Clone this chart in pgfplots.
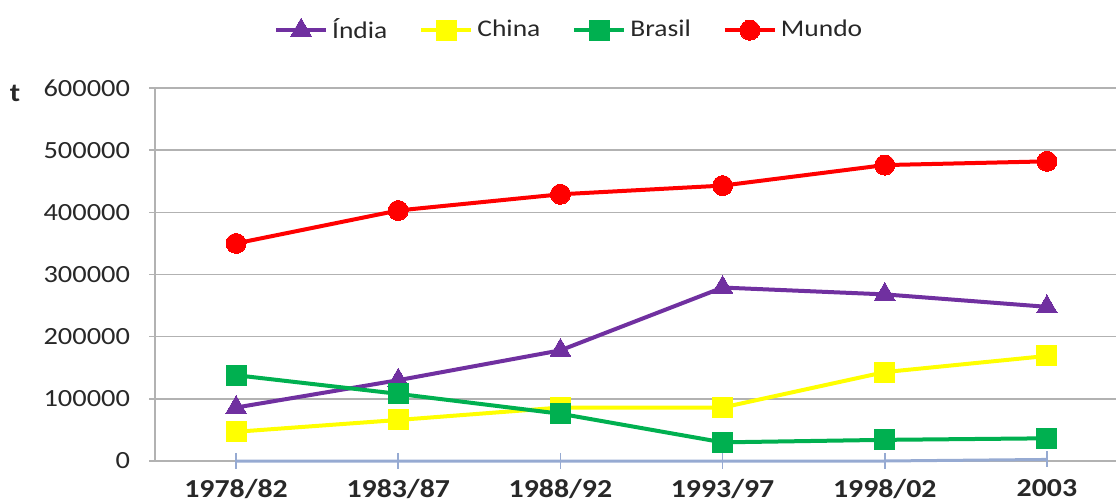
\documentclass[border=0pt]{standalone}
\usepackage{fontspec}
\setmainfont{Carlito}[FakeStretch=1.15]
\usepackage{pgfplots}
\pgfplotsset{compat=1.18}
\definecolor{cIndia}{RGB}{112,48,160}
\definecolor{cChina}{RGB}{255,255,0}
\definecolor{cBrasil}{RGB}{0,176,80}
\definecolor{cMundo}{RGB}{255,0,0}
\definecolor{cGrid}{RGB}{178,178,178}
\definecolor{cBlue}{RGB}{150,170,210}
\definecolor{cText}{RGB}{40,40,40}
\begin{document}
\begin{tikzpicture}
\begin{axis}[
  at={(77.5bp,20.5bp)}, anchor=south west,
  scale only axis, width=480.5bp, height=186.5bp,
  xmin=-0.5, xmax=5.426, ymin=0, ymax=600000,
  xtick={0,1,2,3,4,5},
  xticklabels={1978/82,1983/87,1988/92,1993/97,1998/02,2003},
  ytick={0,100000,200000,300000,400000,500000,600000},
  scaled y ticks=false,
  yticklabel={\pgfmathprintnumber[fixed,precision=0,1000 sep={},assume math mode=true]{\tick}},
  axis x line*=bottom, axis y line*=left,
  axis line style={cGrid, line width=0.8bp},
  x axis line style={-}, y axis line style={-},
  ymajorgrids, grid style={cGrid, line width=0.8bp},
  major x tick style={draw=none},
  ytick style={cGrid, line width=0.8bp}, tick align=outside, major tick length=3bp,
  yticklabel style={font=\fontsize{12.4}{14}\selectfont, text=cText, xshift=-6bp},
  xticklabel style={font=\fontsize{13}{14}\selectfont\bfseries, text=cText, yshift=-2.5bp},
  legend columns=4,
  legend style={at={(0.432,1.155)}, anchor=center, draw=none, fill=none,
    font=\fontsize{12}{14}\selectfont, text=cText,
    /tikz/every even column/.append style={column sep=14bp}},
  legend image code/.code={
    \draw[#1, mark repeat=2, mark phase=2] plot coordinates {(0bp,0bp) (12.5bp,0bp) (25bp,0bp)};},
  clip=false,
]
\addplot[cBlue, line width=1.5bp, mark=|, mark size=4bp, mark options={line width=0.8bp}, forget plot]
  coordinates {(0,0) (1,0) (2,0) (3,0) (4,0) (5,2500)};
\addplot[cIndia, line width=2bp, mark=triangle*, mark size=6bp, mark options={line width=0pt}]
  coordinates {(0,86000) (1,130000) (2,178000) (3,279000) (4,268000) (5,248000)};
\addlegendentry{Índia}
\addplot[cChina, line width=2bp, mark=square*, mark size=5bp, mark options={line width=0pt}]
  coordinates {(0,47000) (1,66000) (2,86000) (3,86000) (4,143000) (5,169000)};
\addlegendentry{China}
\addplot[cBrasil, line width=2bp, mark=square*, mark size=5bp, mark options={line width=0pt}]
  coordinates {(0,138000) (1,108000) (2,76000) (3,30000) (4,34000) (5,36500)};
\addlegendentry{Brasil}
\addplot[cMundo, line width=2bp, mark=*, mark size=5bp, mark options={line width=0pt}]
  coordinates {(0,350000) (1,403000) (2,429000) (3,443000) (4,476000) (5,482000)};
\addlegendentry{Mundo}
\node[font=\fontsize{13}{14}\selectfont\bfseries, text=cText] at (rel axis cs:-0.1457,0.9866) {t};
\end{axis}
\pgfresetboundingbox
\path[use as bounding box] (0,0) rectangle (558bp,251bp);
\end{tikzpicture}
\end{document}
